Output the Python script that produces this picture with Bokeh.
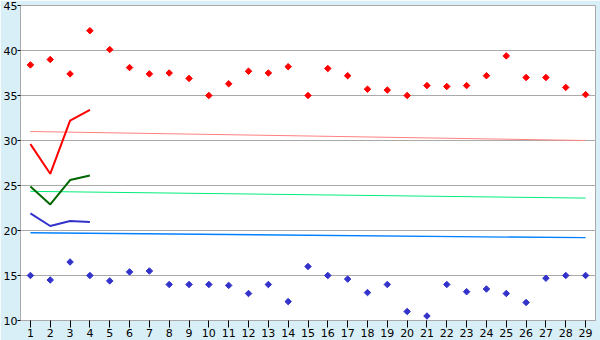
import math
from bokeh.plotting import figure
from bokeh.embed import file_html
from bokeh.resources import INLINE
from bokeh.models import FixedTicker

days = list(range(1, 30))
red_points = [38.4, 39.0, 37.4, 42.2, 40.1, 38.1, 37.4, 37.5, 36.9, 35.0,
              36.3, 37.7, 37.5, 38.2, 35.0, 38.0, 37.2, 35.7, 35.6, 35.0,
              36.1, 36.0, 36.1, 37.2, 39.4, 37.0, 37.0, 35.9, 35.1]
blue_points = [15.0, 14.5, 16.5, 15.0, 14.4, 15.4, 15.5, 14.0, 14.0, 14.0,
               13.9, 13.0, 14.0, 12.1, 16.0, 15.0, 14.6, 13.1, 14.0, 11.0,
               10.5, 14.0, 13.2, 13.5, 13.0, 12.0, 14.7, 15.0, 15.0]
line_days = [1, 2, 3, 4]
red_line = [29.6, 26.3, 32.2, 33.4]
green_line = [24.9, 22.9, 25.6, 26.1]
blue_line = [21.9, 20.5, 21.05, 20.95]
trend_days = [1, 29]
pink_trend = [31.0, 30.0]
green_trend = [24.35, 23.6]
blue_trend = [19.75, 19.2]
y_ticks = [10, 15, 20, 25, 30, 35, 40, 45]

p = figure(width=600, height=340, output_backend="svg", toolbar_location=None,
           x_range=(0.5, 29.5), y_range=(10, 45),
           min_border_left=20, min_border_right=5, min_border_top=5,
           min_border_bottom=20)
p.background_fill_color = "white"
p.border_fill_color = "#d9eff7"
p.outline_line_color = "#aaaaaa"
p.outline_line_width = 1

p.xgrid.grid_line_color = None
p.ygrid.grid_line_color = "#aaaaaa"
p.ygrid.grid_line_width = 1
p.yaxis.ticker = FixedTicker(ticks=y_ticks)
p.xaxis.ticker = FixedTicker(ticks=days)

for ax in (p.xaxis, p.yaxis):
    ax.axis_line_color = "#aaaaaa"
    ax.major_tick_line_color = "black"
    ax.minor_tick_line_color = None
    ax.major_tick_in = 0
    ax.major_label_text_font = "DejaVu Sans"
    ax.major_label_text_font_size = "11px"
    ax.major_label_text_color = "black"
p.xaxis.major_tick_out = 7
p.xaxis.major_label_standoff = 1
p.yaxis.major_tick_out = 3
p.yaxis.major_label_standoff = 0

p.line(trend_days, pink_trend, line_color="#ff8080", line_width=1)
p.line(trend_days, green_trend, line_color="#00ee77", line_width=1)
p.line(trend_days, blue_trend, line_color="#0080ff", line_width=1.3)

p.line(line_days, red_line, line_color="#ff0000", line_width=2)
p.line(line_days, green_line, line_color="#006600", line_width=2)
p.line(line_days, blue_line, line_color="#3333cc", line_width=2)

p.scatter(days, red_points, marker="square", angle=math.pi / 4, size=4.6, color="#ff0000")
p.scatter(days, blue_points, marker="square", angle=math.pi / 4, size=4.6, color="#3333cc")

open("out.html", "w").write(file_html(p, INLINE))
